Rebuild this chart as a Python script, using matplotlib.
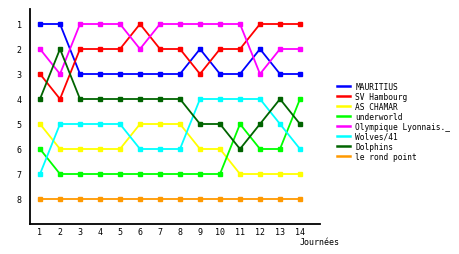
import matplotlib
matplotlib.use("Agg")
import matplotlib.pyplot as plt

# classement par journée
journees = list(range(1, 15))
equipes = ["MAURITIUS", "SV Hambourg", "AS CHAMAR", "underworld",
           "Olympique Lyonnais._", "Wolves/41", "Dolphins", "le rond point"]
couleurs = ["#0000ff", "#ff0000", "#ffff00", "#00ff00",
            "#ff00ff", "#00ffff", "#006400", "#ff9900"]

mauritius = [1, 1, 3, 3, 3, 3, 3, 3, 2, 3, 3, 2, 3, 3]
hambourg = [3, 4, 2, 2, 2, 1, 2, 2, 3, 2, 2, 1, 1, 1]
chamar = [5, 6, 6, 6, 6, 5, 5, 5, 6, 6, 7, 7, 7, 7]
underworld = [6, 7, 7, 7, 7, 7, 7, 7, 7, 7, 5, 6, 6, 4]
lyonnais = [2, 3, 1, 1, 1, 2, 1, 1, 1, 1, 1, 3, 2, 2]
wolves = [7, 5, 5, 5, 5, 6, 6, 6, 4, 4, 4, 4, 5, 6]
dolphins = [4, 2, 4, 4, 4, 4, 4, 4, 5, 5, 6, 5, 4, 5]
rond_point = [8, 8, 8, 8, 8, 8, 8, 8, 8, 8, 8, 8, 8, 8]
classements = [mauritius, hambourg, chamar, underworld,
               lyonnais, wolves, dolphins, rond_point]

rangs = list(range(1, 9))

plt.rcParams['font.family'] = ['DejaVu Sans Mono']

fig = plt.figure(figsize=(4.6, 2.55), dpi=100)
ax = fig.add_axes([30 / 460, 30 / 255, 290 / 460, 215 / 255])

for nom, c, valeurs in zip(equipes, couleurs, classements):
    ax.plot(journees, valeurs, color=c, lw=1.3, marker='s', ms=2.5,
            mec=c, mfc=c, label=nom)

ax.set_xlim(0.5, 15)
ax.set_ylim(9, 0.4)
ax.set_xticks(journees)
ax.set_yticks(rangs)
ax.tick_params(length=0, labelsize=6, pad=2)
ax.tick_params(axis='y', pad=6)
for s in ['top', 'right']:
    ax.spines[s].set_visible(False)
for s in ['left', 'bottom']:
    ax.spines[s].set_linewidth(1.3)

fig.text(300 / 460, 1 - 243 / 255, "Journées", fontsize=6, va='center')

leg = ax.legend(loc='upper left', bbox_to_anchor=(337 / 460, 1 - 83 / 255),
                bbox_transform=fig.transFigure, frameon=False, fontsize=5.7,
                handlelength=1.7, handletextpad=0.6, labelspacing=0.12,
                borderpad=0, borderaxespad=0)
for h in leg.get_lines():
    h.set_marker('')
    h.set_linewidth(1.8)

fig.savefig("out.png", dpi=100)
